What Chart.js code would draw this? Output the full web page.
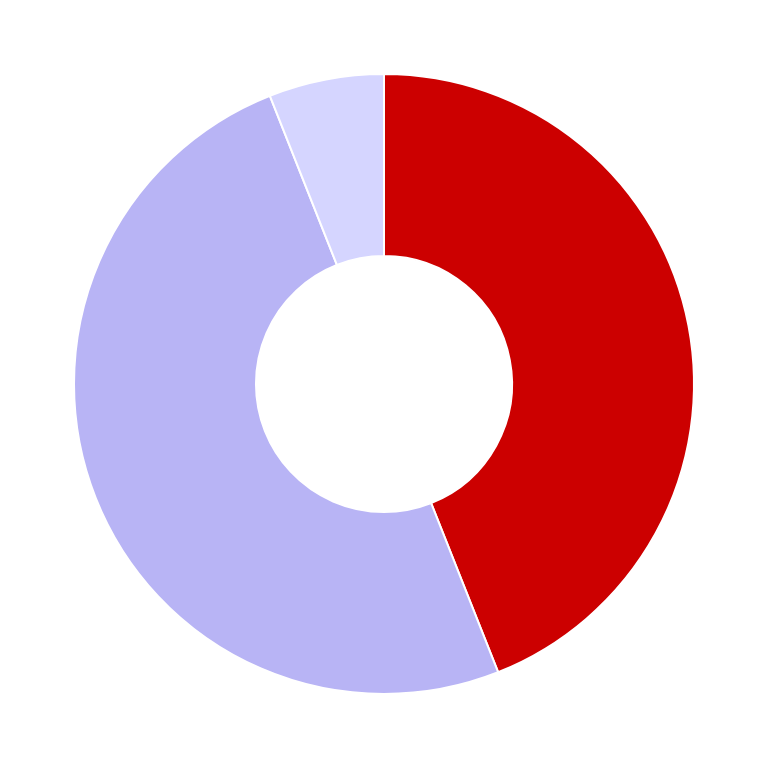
<!DOCTYPE html>
<html>
<head>
<meta charset="utf-8">
<style>
 html,body{margin:0;padding:0;background:#fff;}
 #wrap{width:768px;height:768px;}
</style>
<script src="https://cdn.jsdelivr.net/npm/chart.js@4"></script>
</head>
<body>
<div id="wrap"><canvas id="myChart" width="768" height="768"></canvas></div>
<script>
const labels=['A','B','C'];
const values=[44,50,6];
const colors=['#CC0000','#B8B4F5','#D5D5FF'];

const ctx=document.getElementById('myChart');
new Chart(ctx,{
 type:'doughnut',
 data:{
  labels:labels,
  datasets:[{data:values,backgroundColor:colors,borderColor:'#ffffff',borderWidth:2}]
 },
 options:{
  responsive:false,
  animation:false,
  cutout:'41.3%',
  layout:{padding:73},
  plugins:{legend:{display:false},tooltip:{enabled:false}}
 }
});
</script>
</body>
</html>
